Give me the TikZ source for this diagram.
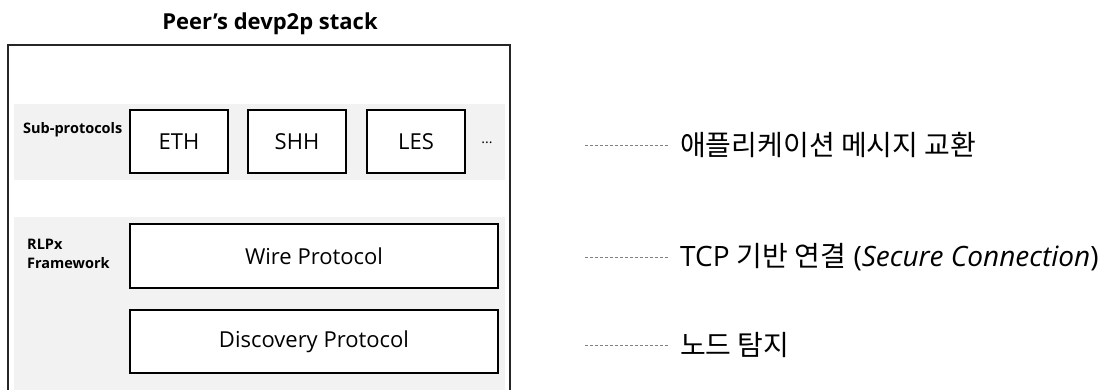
\documentclass[tikz,border=0pt]{standalone}
\usepackage{fontspec}
\setmainfont{Open Sans}
\newfontfamily\kr{Noto Sans CJK KR}
\usetikzlibrary{positioning}
\definecolor{bandgray}{HTML}{F2F2F2}
\definecolor{framegray}{HTML}{262626}
\tikzset{
band/.style={fill=bandgray, draw=none},
proto/.style={draw=black, line width=1.1pt, fill=white, font=\fontsize{22}{26}\selectfont},
layer/.style={font=\bfseries\fontsize{14.5}{19}\selectfont, align=left, anchor=west, inner sep=0pt},
note/.style={font=\fontsize{28}{32}\selectfont, anchor=west, inner sep=0pt},
dline/.style={densely dashed, draw=gray, line width=0.6pt, shorten >=10pt}
}

\begin{document}
\begin{tikzpicture}[x=1pt,y=-1pt]
\useasboundingbox (0,0) rectangle (1112,390);
\clip (0,0) rectangle (1112,390);
\node[font=\bfseries\fontsize{22}{26}\selectfont] (title) at (270,24) {Peer’s devp2p stack};
\draw[draw=framegray, line width=1.4pt] (8,45) rectangle (510,400);
\fill[band] (14,104) rectangle (505,180);
\fill[band] (14,217) rectangle (505,400);
\node[layer] (sub) at (23,130) {Sub-protocols};
\node[layer] (rlpx) at (27,254) {RLPx\\Framework};
\node[proto, minimum width=98pt, minimum height=63pt] (eth) at (179,141.5) {ETH};
\node[proto, minimum width=98pt, minimum height=63pt] (shh) at (297,141.5) {SHH};
\node[proto, minimum width=98pt, minimum height=63pt] (les) at (416,141.5) {LES};
\node[font=\fontsize{14}{16}\selectfont] (more) at (487,143) {...};
\node[proto, minimum width=368pt, minimum height=64pt] (wire) at (314,256) {Wire Protocol};
\node[proto, minimum width=368pt, minimum height=63pt] (disc) at (314,341.5) {Discovery Protocol};
% right hand notes
\coordinate (c1) at (585,145);
\coordinate (c2) at (585,257);
\coordinate (c3) at (585,345);
\node[note] (app) at (680,145) {\kr 애플리케이션 메시지 교환};
\node[note] (tcp) at (680,257) {TCP {\kr 기반 연결} (\textit{Secure Connection})};
\node[note] (find) at (680,345) {\kr 노드 탐지};
\draw[dline] (c1) -- (app.west);
\draw[dline] (c2) -- (tcp.west);
\draw[dline] (c3) -- (find.west);
\end{tikzpicture}
\end{document}
